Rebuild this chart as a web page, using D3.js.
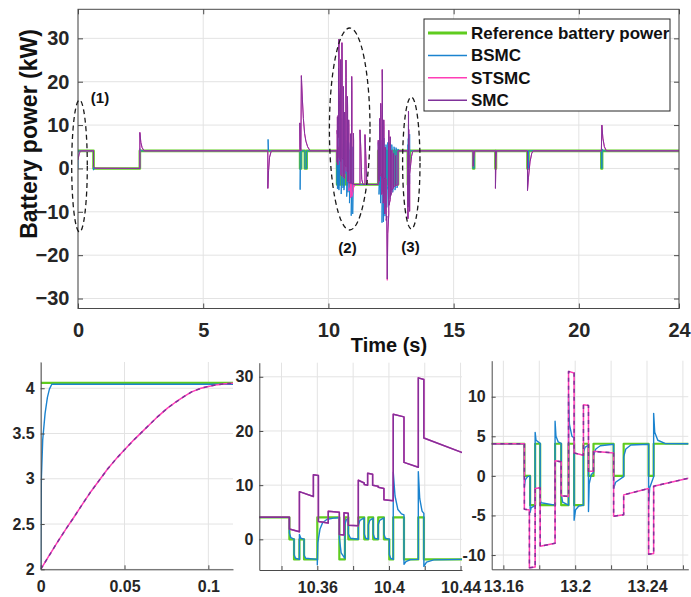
<!DOCTYPE html>
<html>
<head>
<meta charset="utf-8">
<script src="https://cdn.jsdelivr.net/npm/d3@7"></script>
<style>
  body { margin: 0; background: #fff; }
  svg text { font-family: "Liberation Sans", Arial, Helvetica, sans-serif; font-weight: bold; }
</style>
</head>
<body>
<svg id="chart" width="691" height="597"></svg>
<script>
// ---------- data: battery power (kW) against time (s) ----------
const seriesNames = ['Reference battery power', 'BSMC', 'STSMC', 'SMC'];

const refPower = [
  [0, 4.06], [0.62, 4.06], [0.62, 0], [2.47, 0], [2.47, 4.06],
  [8.87, 4.06], [8.87, 0], [8.91, 0], [8.91, 4.06], [9.06, 4.06], [9.06, 0], [9.13, 0], [9.13, 4.06],
  [10.3444, 4.06], [10.3444, 0], [10.347, 0], [10.347, -3.7], [10.35, -3.7], [10.35, 0], [10.3526, 0], [10.3526, -3.7],
  [10.36, -3.7], [10.36, 4.06], [10.3723, 4.06], [10.3723, -3.7], [10.3754, -3.7], [10.3754, 4.06], [10.3773, 4.06],
  [10.3773, 0], [10.3829, 0], [10.3829, 4.06], [10.3862, 4.06], [10.3862, 0], [10.3885, 0], [10.3885, 4.06],
  [10.3912, 4.06], [10.3912, 0], [10.394, 0], [10.394, 4.06], [10.3972, 4.06], [10.3972, 0], [10.4002, 0],
  [10.4002, -3.7], [10.4024, -3.7], [10.4024, 4.06], [10.4084, 4.06], [10.4084, -3.7], [10.4164, -3.7],
  [10.4164, 4.06], [10.4195, 4.06], [10.4195, -3.7],
  [10.45, -3.7], [10.45, 4.06], [10.47, 4.06], [10.47, 0], [10.49, 0], [10.49, 4.06], [10.51, 4.06], [10.51, -3.7],
  [10.53, -3.7], [10.53, 4.06], [10.56, 4.06], [10.56, 0], [10.58, 0], [10.58, -3.7], [10.6, -3.7], [10.6, 4.06],
  [10.62, 4.06], [10.62, -3.7], [10.65, -3.7], [10.65, 4.06], [10.68, 4.06], [10.68, 0], [10.7, 0], [10.7, 4.06],
  [10.73, 4.06], [10.73, -3.7], [10.76, -3.7], [10.76, 4.06], [10.78, 4.06], [10.78, -3.7], [10.81, -3.7], [10.81, 4.06],
  [10.84, 4.06], [10.84, -3.7], [10.88, -3.7], [10.88, 4.06], [10.91, 4.06], [10.91, -3.7], [10.95, -3.7], [10.95, 4.06],
  [10.97, 4.06], [10.97, -3.7],
  [11.99, -3.7], [11.99, 4.06], [12.02, 4.06], [12.02, -3.7], [12.05, -3.7], [12.05, 4.06], [12.08, 4.06], [12.08, -3.7],
  [12.11, -3.7], [12.11, 4.06], [12.14, 4.06], [12.14, -3.7], [12.17, -3.7], [12.17, 4.06], [12.2, 4.06], [12.2, -3.7],
  [12.23, -3.7], [12.23, 4.06], [12.26, 4.06], [12.26, -3.7], [12.3, -3.7], [12.3, 4.06], [12.33, 4.06], [12.33, -3.7],
  [12.37, -3.7], [12.37, 4.06], [12.41, 4.06], [12.41, -3.7], [12.45, -3.7], [12.45, 4.06], [12.49, 4.06], [12.49, -3.7],
  [12.53, -3.7], [12.53, 4.06], [12.57, 4.06], [12.57, -3.7], [12.62, -3.7], [12.62, 4.06], [12.66, 4.06], [12.66, -3.7],
  [12.7, -3.7], [12.7, 4.06], [12.74, 4.06], [12.74, -3.7], [12.78, -3.7], [12.78, 4.06],
  [13.1717, 4.06], [13.1717, 0], [13.1749, 0], [13.1749, -3.7], [13.1777, -3.7], [13.1777, 4.06], [13.1805, 4.06],
  [13.1805, -3.7], [13.1888, -3.7], [13.1888, 4.06], [13.1922, 4.06], [13.1922, -3.7], [13.1963, -3.7], [13.1963, 4.06],
  [13.1994, 4.06], [13.1994, -3.7], [13.2046, -3.7], [13.2046, 4.06], [13.2074, 4.06], [13.2074, 0], [13.2102, 0],
  [13.2102, 4.06], [13.2214, 4.06], [13.2214, 0], [13.227, 0], [13.227, 4.06], [13.2409, 4.06], [13.2409, 0],
  [13.2437, 0], [13.2437, 4.06],
  [15.78, 4.06], [15.78, 0], [15.82, 0], [15.82, 4.06], [16.67, 4.06], [16.67, 0], [16.69, 0], [16.69, 4.06],
  [17.95, 4.06], [17.95, 0], [17.99, 0], [17.99, 4.06], [20.9, 4.06], [20.9, 0], [20.93, 0], [20.93, 4.06],
  [24, 4.06]
];

const bsmcPower = [
  [0, 0], [0, 2.0], [0.0004, 3.0], [0.0012, 3.43], [0.0026, 3.72], [0.004, 3.9], [0.0052, 3.99], [0.0066, 4.045],
  [0.62, 4.045], [0.62, -0.4], [0.65, 0], [2.47, 0], [2.47, 4.6], [2.5, 4.06],
  [7.59, 4.06], [7.59, 6.7], [7.61, 4.06],
  [8.87, 4.06], [8.87, -4.9], [8.88, 0], [8.91, 0], [8.91, 4.06], [9.06, 4.06], [9.06, 0], [9.13, 0], [9.13, 4.06],
  [10.3444, 4.06], [10.3444, 1.2], [10.3452, 0.3], [10.347, 0.05], [10.347, -2.8], [10.3478, -3.5], [10.35, -3.7],
  [10.35, 0.9], [10.3508, 0.2], [10.3526, 0.05], [10.3526, -2.9], [10.3535, -3.5], [10.36, -3.7],
  [10.36, -4.7], [10.3603, -0.6], [10.3615, 1.9], [10.363, 3.1], [10.3655, 3.7], [10.37, 3.95], [10.3723, 4.0],
  [10.3723, 0.3], [10.3733, -2.5], [10.3754, -3.5], [10.3754, 2.8], [10.3762, 3.6], [10.3773, 3.9],
  [10.3773, 1.0], [10.3785, 0.2], [10.3829, 0.02], [10.3829, 2.6], [10.3838, 3.5], [10.3862, 3.95],
  [10.3862, 1.0], [10.387, 0.2], [10.3885, 0.05], [10.3885, 2.7], [10.3893, 3.5], [10.3912, 3.9],
  [10.3912, 1.0], [10.392, 0.2], [10.394, 0.05], [10.394, 2.7], [10.3948, 3.5], [10.3972, 3.95],
  [10.3972, 1.0], [10.398, 0.2], [10.4002, 0.05], [10.4002, -2.8], [10.401, -3.5], [10.4024, -3.7],
  [10.4024, 12.4], [10.4034, 8.0], [10.405, 5.5], [10.407, 4.7], [10.4084, 4.5],
  [10.4084, -4.6], [10.4095, -4.1], [10.412, -3.75], [10.4164, -3.7],
  [10.4164, 12.5], [10.4172, 7.5], [10.4185, 5.2], [10.4195, 4.8],
  [10.4195, -5.0], [10.421, -4.2], [10.425, -3.8], [10.441, -3.7],
  [10.45, -3.7], [10.45, 12.3], [10.455, 6.0], [10.47, 4.2], [10.47, -1.5], [10.49, 0], [10.49, 8.5], [10.5, 4.5],
  [10.51, 4.1], [10.51, -5.9], [10.52, -4.0], [10.53, -3.7], [10.53, 11.5], [10.54, 6.0], [10.56, 4.2], [10.56, -1.0],
  [10.58, 0], [10.58, -4.5], [10.6, -3.8], [10.6, 9.5], [10.61, 5.0], [10.62, 4.2], [10.62, -5.0], [10.64, -3.8],
  [10.65, -3.7], [10.65, 7.5], [10.66, 4.8], [10.68, 4.1], [10.68, -1.2], [10.7, 0], [10.7, 6.5], [10.71, 4.5],
  [10.73, 4.1], [10.73, -6.5], [10.75, -4.0], [10.76, -3.7], [10.76, 9.0], [10.77, 5.0], [10.78, 4.2], [10.78, -5.5],
  [10.8, -3.9], [10.81, -3.7], [10.81, 6.0], [10.83, 4.3], [10.84, 4.1], [10.84, -8.0], [10.86, -4.5], [10.88, -3.8],
  [10.88, 5.5], [10.9, 4.2], [10.91, 4.1], [10.91, -10.9], [10.93, -5.0], [10.95, -3.8], [10.95, 5.0], [10.96, 4.2],
  [10.97, 4.1], [10.97, -10.5], [10.99, -5.0], [11.02, -3.8], [11.1, -3.7],
  [11.99, -3.7], [11.99, 6.0], [12.0, 4.3], [12.02, 4.1], [12.02, -6.0], [12.04, -4.0], [12.05, -3.7], [12.05, 8.0],
  [12.06, 5.0], [12.08, 4.1], [12.08, -8.0], [12.1, -4.5], [12.11, -3.8], [12.11, 6.5], [12.12, 4.5], [12.14, 4.1],
  [12.14, -12.5], [12.16, -6.0], [12.17, -4.0], [12.17, 9.0], [12.18, 5.0], [12.2, 4.1], [12.2, -12.3], [12.22, -6.0],
  [12.23, -4.0], [12.23, 7.0], [12.24, 4.6], [12.26, 4.1], [12.26, -11.0], [12.28, -5.5], [12.3, -3.9], [12.3, 5.5],
  [12.31, 4.3], [12.33, 4.1], [12.33, -9.0], [12.35, -5.0], [12.37, -3.9], [12.37, 6.0], [12.38, 4.5], [12.41, 4.1],
  [12.41, -7.0], [12.43, -4.5], [12.45, -3.8], [12.45, 6.0], [12.46, 4.4], [12.49, 4.1], [12.49, -6.0], [12.51, -4.2],
  [12.53, -3.8], [12.53, 5.5], [12.55, 4.3], [12.57, 4.1], [12.57, -5.5], [12.59, -4.1], [12.62, -3.8], [12.62, 5.0],
  [12.64, 4.2], [12.66, 4.1], [12.66, -5.0], [12.68, -4.0], [12.7, -3.8], [12.7, 4.8], [12.72, 4.2], [12.74, 4.1],
  [12.74, -4.5], [12.76, -3.9], [12.78, -3.8], [12.78, 4.5], [12.8, 4.06],
  [13.1717, 4.06], [13.1717, -1.4], [13.1722, -0.5], [13.1735, -0.1], [13.1749, 0], [13.1749, -4.6], [13.1755, -4.0],
  [13.1777, -3.75], [13.1777, 5.5], [13.1782, 4.5], [13.1805, 4.1], [13.1805, -3.0], [13.181, -3.4], [13.1888, -3.7],
  [13.1888, 6.9], [13.1893, 5.0], [13.1905, 4.3], [13.1922, 4.1], [13.1922, -2.3], [13.193, -3.3], [13.1963, -3.7],
  [13.1963, 10.0], [13.1968, 6.5], [13.1982, 5.0], [13.1994, 4.8], [13.1994, -5.6], [13.2002, -4.3], [13.202, -3.8],
  [13.2046, -3.7], [13.2046, 3.0], [13.2055, 3.6], [13.2074, 3.9], [13.2074, -4.5], [13.2078, -1.0], [13.209, 0.2],
  [13.2102, 0.4], [13.2102, 2.6], [13.2115, 3.4], [13.214, 3.8], [13.2214, 4.0], [13.2214, -1.6], [13.2225, -0.8],
  [13.227, -0.1], [13.227, 2.4], [13.2282, 3.4], [13.231, 3.9], [13.2409, 4.0], [13.2409, -3.6], [13.2415, -1.5],
  [13.2437, -0.1], [13.2437, 7.9], [13.2443, 5.5], [13.246, 4.5], [13.25, 4.1], [13.263, 4.06],
  [15.78, 4.06], [15.78, 0], [15.82, 0], [15.82, 4.06], [16.67, 4.06], [16.67, 1.0], [16.69, 4.06],
  [17.95, 4.06], [17.95, -0.5], [17.97, 0], [17.99, 0], [17.99, 4.06],
  [20.9, 4.06], [20.9, 0], [20.93, 0], [20.93, 4.5], [20.96, 4.06],
  [24, 4.06]
];

const stsmcPower = [
  [0, 2.0], [0.005, 2.15], [0.01, 2.3], [0.0156, 2.46], [0.02, 2.58], [0.0256, 2.74], [0.03, 2.86], [0.0356, 3.0],
  [0.04, 3.11], [0.045, 3.22], [0.05, 3.32], [0.0556, 3.43], [0.06, 3.51], [0.0656, 3.61], [0.07, 3.69],
  [0.0756, 3.78], [0.08, 3.84], [0.0856, 3.91], [0.09, 3.96], [0.0956, 4.0], [0.1, 4.02], [0.1056, 4.04],
  [0.11, 4.05], [0.1152, 4.055],
  [0.62, 4.06], [0.62, 0.4], [0.68, 0.05], [2.47, 0], [2.47, 8.3], [2.51, 6.0], [2.56, 4.8], [2.64, 4.06],
  [7.58, 4.06], [7.58, -4.6], [7.61, -0.5], [7.65, 2.6], [7.72, 4.06],
  [8.86, 4.06], [8.86, 10.5], [8.88, 5.0], [8.9, 4.06], [8.92, 21.4], [8.96, 16.0], [9.0, 11.5], [9.05, 8.0],
  [9.1, 6.3], [9.17, 5.0], [9.27, 4.06],
  [10.3444, 4.06], [10.3444, 1.9], [10.35, 1.4], [10.35, 8.8], [10.3578, 7.9], [10.3578, 11.9], [10.3606, 11.8],
  [10.3606, 3.3], [10.3661, 3.0], [10.3661, 5.2], [10.3723, 5.0], [10.3723, 0.9], [10.3749, 0.8], [10.3749, 4.9],
  [10.3773, 4.8], [10.3773, 2.6], [10.3829, 2.5], [10.3829, 10.9], [10.3862, 10.4], [10.3862, 10.1], [10.3881, 10.0],
  [10.3881, 12.2], [10.3909, 12.0], [10.3909, 10.0], [10.394, 9.8], [10.394, 9.6], [10.3972, 9.4], [10.3972, 7.3],
  [10.4024, 7.1], [10.4024, 23.1], [10.4084, 22.6], [10.4084, 14.2], [10.4164, 13.3], [10.4164, 29.8], [10.4195, 29.5],
  [10.4195, 18.7], [10.441, 16.0],
  [10.448, 15.6], [10.448, 2.0], [10.49, 1.6], [10.49, 25.1], [10.496, 21.0], [10.496, -1.5], [10.54, -1.8],
  [10.54, 29.0], [10.546, 25.0], [10.546, 2.5], [10.6, 2.0], [10.6, 18.9], [10.606, 15.0], [10.606, -2.0],
  [10.65, -2.3], [10.65, 13.0], [10.656, 11.0], [10.656, 0.8], [10.7, 0.4], [10.7, 25.0], [10.706, 21.0],
  [10.706, -0.5], [10.76, -0.8], [10.76, 16.6], [10.766, 14.0], [10.766, -3.0], [10.81, -2.6], [10.81, 11.2],
  [10.816, 9.5], [10.816, -5.2], [10.88, -4.2], [10.88, 8.0], [10.886, 6.5], [10.886, -6.8], [10.93, -5.0],
  [10.93, 21.2], [10.936, 18.0], [10.936, -6.5], [11.0, -5.0], [11.0, 8.1], [11.006, 6.5], [11.006, -4.4],
  [11.06, -3.7],
  [11.26, -3.7], [11.26, 8.9], [11.29, 5.0], [11.33, -2.5], [11.38, -3.7],
  [11.46, -3.7], [11.46, 7.8], [11.49, 3.5], [11.53, -3.0], [11.58, -3.7],
  [11.99, -3.7], [11.99, 6.5], [11.996, 5.0], [11.996, -2.5], [12.04, -3.0], [12.04, 11.5], [12.046, 9.5],
  [12.046, -1.5], [12.09, -1.8], [12.09, 15.0], [12.096, 12.5], [12.096, -1.0], [12.13, -1.5], [12.13, -6.0],
  [12.15, -5.2], [12.15, 22.8], [12.156, 19.0], [12.156, -2.0], [12.19, -2.5], [12.19, -8.0], [12.21, -7.0],
  [12.21, 11.2], [12.216, 9.0], [12.216, -2.0], [12.25, -2.5], [12.25, -10.5], [12.27, -9.0], [12.27, 4.9],
  [12.276, 4.0], [12.276, -2.0], [12.31, -2.5], [12.31, -12.0], [12.33, -11.0], [12.35, -25.8], [12.37, -15.2],
  [12.41, -10.5], [12.41, 8.8], [12.416, 7.0], [12.416, -8.5], [12.47, -7.2], [12.47, 7.3], [12.476, 6.0],
  [12.476, -6.5], [12.53, -5.5], [12.53, 4.2], [12.536, 3.5], [12.536, -5.0], [12.6, -4.5], [12.6, 3.5],
  [12.606, 3.0], [12.606, -4.2], [12.68, -4.0], [12.68, 3.0], [12.686, 2.8], [12.686, -3.9], [12.78, -3.8],
  [12.78, 4.06],
  [13.1717, 4.06], [13.1717, -4.2], [13.1745, -4.3], [13.1745, -11.6], [13.1777, -11.5], [13.1777, -1.6],
  [13.1805, -1.5], [13.1805, -8.9], [13.1888, -8.5], [13.1888, 1.9], [13.1922, 1.8], [13.1922, -2.5], [13.1963, -2.6],
  [13.1963, 13.2], [13.1994, 13.0], [13.1994, 2.9], [13.2046, 2.6], [13.2046, 9.0], [13.2074, 8.9], [13.2074, 0.6],
  [13.2102, 0.6], [13.2102, 3.1], [13.2214, 2.9], [13.2214, -5.1], [13.227, -4.9], [13.227, -2.4], [13.2409, -1.6],
  [13.2409, -9.9], [13.2437, -9.8], [13.2437, -1.3], [13.263, -0.3], [13.29, 1.2], [13.32, 2.8], [13.36, 3.8], [13.4, 4.06],
  [15.78, 4.06], [15.78, 0.5], [15.8, 2.5], [15.83, 4.06],
  [16.67, 4.06], [16.67, -4.6], [16.69, 2.0], [16.71, 4.06],
  [17.95, 4.06], [17.95, -5.1], [17.99, -2.0], [18.05, 1.5], [18.12, 3.5], [18.18, 4.06],
  [20.9, 4.06], [20.92, 10.0], [20.96, 7.0], [21.02, 5.0], [21.1, 4.06],
  [24, 4.06]
];

const smcPower = [
  [0, 2.0], [0.005, 2.15], [0.01, 2.3], [0.0156, 2.46], [0.02, 2.58], [0.0256, 2.74], [0.03, 2.86], [0.0356, 3.0],
  [0.04, 3.11], [0.045, 3.22], [0.05, 3.32], [0.0556, 3.43], [0.06, 3.51], [0.0656, 3.61], [0.07, 3.69],
  [0.0756, 3.78], [0.08, 3.84], [0.0856, 3.91], [0.09, 3.96], [0.0956, 4.0], [0.1, 4.02], [0.1056, 4.04],
  [0.11, 4.05], [0.1152, 4.055],
  [0.62, 4.06], [0.62, 0.4], [0.68, 0.05], [2.47, 0], [2.47, 8.3], [2.51, 6.0], [2.56, 4.8], [2.64, 4.06],
  [7.58, 4.06], [7.58, -4.6], [7.61, -0.5], [7.65, 2.6], [7.72, 4.06],
  [8.86, 4.06], [8.86, 10.5], [8.88, 5.0], [8.9, 4.06], [8.92, 21.4], [8.96, 16.0], [9.0, 11.5], [9.05, 8.0],
  [9.1, 6.3], [9.17, 5.0], [9.27, 4.06],
  [10.3444, 4.06], [10.3444, 1.9], [10.35, 1.4], [10.35, 8.8], [10.3578, 7.9], [10.3578, 11.9], [10.3606, 11.8],
  [10.3606, 3.3], [10.3661, 3.0], [10.3661, 5.2], [10.3723, 5.0], [10.3723, 0.9], [10.3749, 0.8], [10.3749, 4.9],
  [10.3773, 4.8], [10.3773, 2.6], [10.3829, 2.5], [10.3829, 10.9], [10.3862, 10.4], [10.3862, 10.1], [10.3881, 10.0],
  [10.3881, 12.2], [10.3909, 12.0], [10.3909, 10.0], [10.394, 9.8], [10.394, 9.6], [10.3972, 9.4], [10.3972, 7.3],
  [10.4024, 7.1], [10.4024, 23.1], [10.4084, 22.6], [10.4084, 14.2], [10.4164, 13.3], [10.4164, 29.8], [10.4195, 29.5],
  [10.4195, 18.7], [10.441, 16.0],
  [10.448, 15.6], [10.448, 2.0], [10.49, 1.6], [10.49, 25.1], [10.496, 21.0], [10.496, -1.5], [10.54, -1.8],
  [10.54, 29.0], [10.546, 25.0], [10.546, 2.5], [10.6, 2.0], [10.6, 18.9], [10.606, 15.0], [10.606, -2.0],
  [10.65, -2.3], [10.65, 13.0], [10.656, 11.0], [10.656, 0.8], [10.7, 0.4], [10.7, 25.0], [10.706, 21.0],
  [10.706, -0.5], [10.76, -0.8], [10.76, 16.6], [10.766, 14.0], [10.766, -3.0], [10.81, -2.6], [10.81, 11.2],
  [10.816, 9.5], [10.816, -3.4], [10.88, -3.2], [10.88, 8.0], [10.886, 6.5], [10.886, -3.5], [10.93, -3.3],
  [10.93, 21.2], [10.936, 18.0], [10.936, -3.6], [11.0, -3.4], [11.0, 8.1], [11.006, 6.5], [11.006, -3.7],
  [11.26, -3.7], [11.26, 8.9], [11.29, 5.0], [11.33, -2.5], [11.38, -3.7],
  [11.46, -3.7], [11.46, 7.8], [11.49, 3.5], [11.53, -3.0], [11.58, -3.7],
  [11.99, -3.7], [11.99, 6.5], [11.996, 5.0], [11.996, -2.5], [12.04, -3.0], [12.04, 11.5], [12.046, 9.5],
  [12.046, -1.5], [12.09, -1.8], [12.09, 15.0], [12.096, 12.5], [12.096, -1.0], [12.13, -1.5], [12.13, -6.0],
  [12.15, -5.2], [12.15, 22.8], [12.156, 19.0], [12.156, -2.0], [12.19, -2.5], [12.19, -8.0], [12.21, -7.0],
  [12.21, 11.2], [12.216, 9.0], [12.216, -2.0], [12.25, -2.5], [12.25, -10.5], [12.27, -9.0], [12.27, 4.9],
  [12.276, 4.0], [12.276, -2.0], [12.31, -2.5], [12.31, -12.0], [12.33, -11.0], [12.35, -25.5], [12.37, -15.0],
  [12.41, -10.5], [12.41, 8.8], [12.416, 7.0], [12.416, -8.5], [12.47, -7.2], [12.47, 7.3], [12.476, 6.0],
  [12.476, -6.5], [12.53, -5.5], [12.53, 4.2], [12.536, 3.5], [12.536, -5.0], [12.6, -4.5], [12.6, 3.5],
  [12.606, 3.0], [12.606, -4.2], [12.68, -4.0], [12.68, 3.0], [12.686, 2.8], [12.686, -3.9], [12.78, -3.8],
  [12.78, 4.06],
  [13.1717, 4.06], [13.1717, -4.2], [13.1745, -4.3], [13.1745, -11.6], [13.1777, -11.5], [13.1777, -1.6],
  [13.1805, -1.5], [13.1805, -8.9], [13.1888, -8.5], [13.1888, 1.9], [13.1922, 1.8], [13.1922, -2.5], [13.1963, -2.6],
  [13.1963, 13.2], [13.1994, 13.0], [13.1994, 2.9], [13.2046, 2.6], [13.2046, 9.0], [13.2074, 8.9], [13.2074, 0.6],
  [13.2102, 0.6], [13.2102, 3.1], [13.2214, 2.9], [13.2214, -5.1], [13.227, -4.9], [13.227, -2.4], [13.2409, -1.6],
  [13.2409, -9.9], [13.2437, -9.8], [13.2437, -1.3], [13.263, -0.3], [13.29, 1.2], [13.32, 2.8], [13.36, 3.8], [13.4, 4.06],
  [15.78, 4.06], [15.78, 0.5], [15.8, 2.5], [15.83, 4.06],
  [16.67, 4.06], [16.67, -4.6], [16.69, 2.0], [16.71, 4.06],
  [17.95, 4.06], [17.95, -5.1], [17.99, -2.0], [18.05, 1.5], [18.12, 3.5], [18.18, 4.06],
  [20.9, 4.06], [20.92, 10.0], [20.96, 7.0], [21.02, 5.0], [21.1, 4.06],
  [24, 4.06]
];

// axis limits and ticks
const mainTimeLimits = [0, 24];
const mainPowerLimits = [-32.3, 36.7];
const mainTimeTicks = [0, 5, 10, 15, 20, 24];
const mainPowerTicks = [-30, -20, -10, 0, 10, 20, 30];

const zoom1TimeLimits = [0, 0.1147];
const zoom1PowerLimits = [2, 4.29];
const zoom1TimeTicks = [0, 0.05, 0.1];
const zoom1PowerTicks = [2, 2.5, 3, 3.5, 4];

const zoom2TimeLimits = [10.3276, 10.4408];
const zoom2PowerLimits = [-5.66, 32.6];
const zoom2TimeTicks = [10.34, 10.36, 10.38, 10.4, 10.42, 10.44];
const zoom2TimeLabels = [10.36, 10.4, 10.44];
const zoom2PowerTicks = [0, 10, 20, 30];

const zoom3TimeLimits = [13.1535, 13.263];
const zoom3PowerLimits = [-11.8, 14.55];
const zoom3TimeTicks = [13.16, 13.18, 13.2, 13.22, 13.24, 13.26];
const zoom3TimeLabels = [13.16, 13.2, 13.24];
const zoom3PowerTicks = [-10, -5, 0, 5, 10];

const annotationLabels = ['(1)', '(2)', '(3)'];

// ---------- drawing ----------
const colors = ['#5fcc1f', '#1b83cf', '#ff3db6', '#80329a'];
const seriesData = [refPower, bsmcPower, stsmcPower, smcPower];
const svg = d3.select('#chart');
const defs = svg.append('defs');
const GRID = '#e3e3e3', AXIS = '#4a4a4a', TEXT = '#262626';

function panel(cfg) {
  const g = svg.append('g');
  const xs = d3.scaleLinear().domain(cfg.tx).range([cfg.left, cfg.right]);
  const ys = d3.scaleLinear().domain(cfg.ty).range([cfg.bottom, cfg.top]);

  g.append('g').selectAll('line').data(cfg.xt).join('line')
    .attr('x1', d => xs(d)).attr('x2', d => xs(d))
    .attr('y1', cfg.top).attr('y2', cfg.bottom)
    .attr('stroke', GRID).attr('stroke-width', 1);
  g.append('g').selectAll('line').data(cfg.yt).join('line')
    .attr('x1', cfg.left).attr('x2', cfg.right)
    .attr('y1', d => ys(d)).attr('y2', d => ys(d))
    .attr('stroke', GRID).attr('stroke-width', 1);

  const clipId = 'clip-' + cfg.id;
  defs.append('clipPath').attr('id', clipId).append('rect')
    .attr('x', cfg.left).attr('y', cfg.top)
    .attr('width', cfg.right - cfg.left).attr('height', cfg.bottom - cfg.top);

  const gen = d3.line().x(d => xs(d[0])).y(d => ys(d[1]));
  const lines = g.append('g').attr('clip-path', `url(#${clipId})`);
  seriesData.forEach((data, i) => {
    lines.append('path').datum(data)
      .attr('d', gen)
      .attr('fill', 'none')
      .attr('stroke', colors[i])
      .attr('stroke-width', cfg.widths[i])
      .attr('stroke-linejoin', 'round')
      .attr('stroke-dasharray', (i === 3 && cfg.smcDash) ? cfg.smcDash : null);
  });
  return { g, xs, ys };
}

function styleTicks(sel, size, keepDomain) {
  sel.attr('font-size', null).attr('font-family', null);
  if (keepDomain) sel.select('.domain').attr('stroke', AXIS);
  else sel.select('.domain').remove();
  sel.selectAll('.tick line').attr('stroke', AXIS);
  sel.selectAll('.tick text').style('font-size', size + 'px').attr('fill', TEXT);
}

// main panel
const M = { id: 'main', left: 78, right: 679, top: 9.3, bottom: 308.5,
  tx: mainTimeLimits, ty: mainPowerLimits, xt: mainTimeTicks, yt: mainPowerTicks,
  widths: [2.6, 1.0, 1.0, 1.0], smcDash: null };
const main = panel(M);
const fmtInt = d3.format('d');

main.g.append('g').attr('transform', `translate(0,${M.bottom})`)
  .call(d3.axisBottom(main.xs).tickValues(mainTimeTicks).tickFormat(fmtInt).tickSize(-5).tickPadding(14.5))
  .call(styleTicks, 20, false);
main.g.append('g').attr('transform', `translate(${M.left},0)`)
  .call(d3.axisLeft(main.ys).tickValues(mainPowerTicks).tickFormat(fmtInt).tickSize(-5).tickPadding(8.5))
  .call(styleTicks, 20, false);
main.g.append('g').attr('transform', `translate(0,${M.top})`)
  .call(d3.axisTop(main.xs).tickValues(mainTimeTicks).tickFormat(() => '').tickSize(-5))
  .call(styleTicks, 20, false);
main.g.append('g').attr('transform', `translate(${M.right},0)`)
  .call(d3.axisRight(main.ys).tickValues(mainPowerTicks).tickFormat(() => '').tickSize(-5))
  .call(styleTicks, 20, false);
main.g.append('rect')
  .attr('x', M.left).attr('y', M.top)
  .attr('width', M.right - M.left).attr('height', M.bottom - M.top)
  .attr('fill', 'none').attr('stroke', AXIS).attr('stroke-width', 1);

// axis titles
svg.append('text')
  .attr('transform', 'translate(37,134) rotate(-90)')
  .attr('text-anchor', 'middle').attr('fill', '#111')
  .style('font-size', '23px').text('Battery power (kW)');
svg.append('text')
  .attr('x', 389).attr('y', 352).attr('text-anchor', 'middle').attr('fill', '#111')
  .style('font-size', '20px').text('Time (s)');

// dashed highlight ellipses with their labels
const rings = [
  { cx: 79.5, cy: 166, rx: 7.8, ry: 66, lx: 100, ly: 102.5 },
  { cx: 349.7, cy: 129, rx: 20.3, ry: 101, lx: 347.5, ly: 253 },
  { cx: 411.3, cy: 163, rx: 8.7, ry: 66, lx: 410.5, ly: 251.5 }
];
rings.forEach((r, i) => {
  svg.append('ellipse')
    .attr('cx', r.cx).attr('cy', r.cy).attr('rx', r.rx).attr('ry', r.ry)
    .attr('fill', 'none').attr('stroke', '#1a1a1a').attr('stroke-width', 1.3)
    .attr('stroke-dasharray', '5,3.5');
  svg.append('text').attr('x', r.lx).attr('y', r.ly).attr('text-anchor', 'middle')
    .attr('fill', '#111').style('font-size', '15px').text(annotationLabels[i]);
});

// legend
const leg = svg.append('g');
leg.append('rect').attr('x', 424).attr('y', 19).attr('width', 246).attr('height', 92)
  .attr('fill', '#fff').attr('stroke', '#262626').attr('stroke-width', 1);
seriesNames.forEach((name, i) => {
  const yy = 33 + i * 22.4;
  leg.append('line').attr('x1', 428).attr('x2', 467).attr('y1', yy).attr('y2', yy)
    .attr('stroke', colors[i]).attr('stroke-width', i === 0 ? 3 : 1.5);
  leg.append('text').attr('x', 471).attr('y', yy + 6).attr('fill', '#111')
    .style('font-size', '17px').text(name);
});

// zoomed panels
const insetCfgs = [
  { id: 'z1', left: 40.7, right: 233, top: 362, bottom: 569.3,
    tx: zoom1TimeLimits, ty: zoom1PowerLimits, xt: zoom1TimeTicks, xl: zoom1TimeTicks, yt: zoom1PowerTicks,
    widths: [2.2, 1.4, 1.5, 1.5], smcDash: '4,4' },
  { id: 'z2', left: 259.3, right: 462, top: 362.7, bottom: 570,
    tx: zoom2TimeLimits, ty: zoom2PowerLimits, xt: zoom2TimeTicks, xl: zoom2TimeLabels, yt: zoom2PowerTicks,
    widths: [2.2, 1.4, 1.5, 1.5], smcDash: null },
  { id: 'z3', left: 491.7, right: 688.3, top: 360.7, bottom: 569.3,
    tx: zoom3TimeLimits, ty: zoom3PowerLimits, xt: zoom3TimeTicks, xl: zoom3TimeLabels, yt: zoom3PowerTicks,
    widths: [2.2, 1.4, 1.5, 1.5], smcDash: '4,4' }
];
insetCfgs.forEach(cfg => {
  const p = panel(cfg);
  p.g.append('g').attr('transform', `translate(0,${cfg.bottom})`)
    .call(d3.axisBottom(p.xs).tickValues(cfg.xt).tickSize(-4).tickSizeOuter(0).tickPadding(11.3)
      .tickFormat(d => cfg.xl.includes(d) ? String(d) : ''))
    .call(styleTicks, 16, true);
  p.g.append('g').attr('transform', `translate(${cfg.left},0)`)
    .call(d3.axisLeft(p.ys).tickValues(cfg.yt).tickSize(-4).tickSizeOuter(0).tickPadding(6)
      .tickFormat(d => String(d)))
    .call(styleTicks, 16, true);
});
</script>
</body>
</html>
